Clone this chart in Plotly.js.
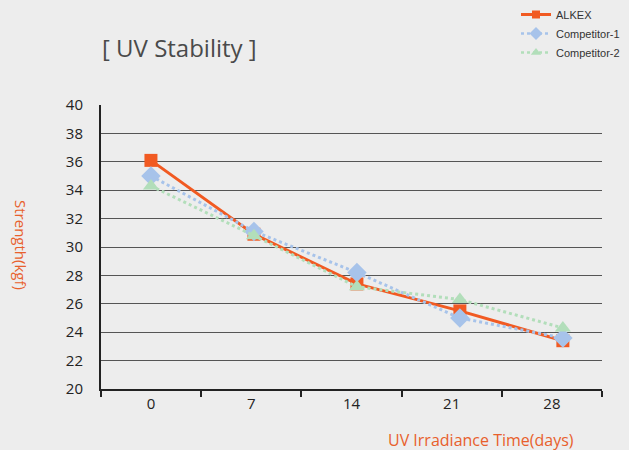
<!DOCTYPE html>
<html><head><meta charset="utf-8">
<script src="https://cdn.plot.ly/plotly-3.0.1.min.js"></script>
<style>html,body{margin:0;padding:0;background:#ededed;}</style>
</head><body><div id="chart" style="width:629px;height:450px;"></div>
<script>
const categories = ["0", "7", "14", "21", "28"];
const alkex = [36.1, 30.9, 27.4, 25.5, 23.4];
const competitor1 = [35.0, 31.1, 28.2, 25.0, 23.6];
const competitor2 = [34.3, 30.8, 27.2, 26.3, 24.3];
const yTicks = [20, 22, 24, 26, 28, 30, 32, 34, 36, 38, 40];
const seriesNames = ["ALKEX", "Competitor-1", "Competitor-2"];
const seriesColors = ["#f15a22", "#a7c3ea", "#b2deba"];

const empty = categories.map(() => null);
const traces = [
  {x: categories, y: alkex, name: seriesNames[0], type: "scatter", mode: "lines+markers", xaxis: "x2", showlegend: false,
   line: {color: seriesColors[0], width: 3}, marker: {symbol: "square", size: 13, color: seriesColors[0]}},
  {x: categories, y: competitor1, name: seriesNames[1], type: "scatter", mode: "lines+markers", xaxis: "x2", showlegend: false,
   line: {color: seriesColors[1], width: 3, dash: "dot"}, marker: {symbol: "diamond", size: 15, color: seriesColors[1]}},
  {x: categories, y: competitor2, name: seriesNames[2], type: "scatter", mode: "lines+markers", xaxis: "x2", showlegend: false,
   line: {color: seriesColors[2], width: 3, dash: "dot"}, marker: {symbol: "triangle-up", size: 14, color: seriesColors[2]}},
  // legend entries (smaller markers, like the reference legend)
  {x: categories, y: empty, name: seriesNames[0], type: "scatter", mode: "lines+markers", xaxis: "x2",
   line: {color: seriesColors[0], width: 3}, marker: {symbol: "square", size: 8, color: seriesColors[0]}},
  {x: categories, y: empty, name: seriesNames[1], type: "scatter", mode: "lines+markers", xaxis: "x2",
   line: {color: seriesColors[1], width: 2.5, dash: "dot"}, marker: {symbol: "diamond", size: 10, color: seriesColors[1]}},
  {x: categories, y: empty, name: seriesNames[2], type: "scatter", mode: "lines+markers", xaxis: "x2",
   line: {color: seriesColors[2], width: 2.5, dash: "dot"}, marker: {symbol: "triangle-up", size: 9, color: seriesColors[2]}},
  {x: categories, y: empty, type: "scatter", mode: "markers", showlegend: false, hoverinfo: "skip", xaxis: "x"}
];

const layout = {
  width: 629, height: 450,
  paper_bgcolor: "#ededed", plot_bgcolor: "#ededed",
  margin: {l: 101, r: 27, t: 105, b: 61, autoexpand: false},
  font: {family: "Open Sans, Arial, sans-serif", color: "#222"},
  title: {text: "[ UV Stability ]", x: 102/629, xanchor: "left", y: 1 - 49/450, yanchor: "middle",
          font: {size: 24, color: "#4a4a4a", family: "Open Sans, sans-serif"}},
  xaxis: {type: "category", categoryarray: categories, range: [-0.5, 4.5], tickson: "boundaries",
          ticks: "outside", ticklen: 6, tickwidth: 2, tickcolor: "#222",
          showline: true, linecolor: "#222", linewidth: 2, showgrid: false, zeroline: false,
          tickfont: {size: 15, color: "#222"}, fixedrange: true},
  xaxis2: {type: "category", categoryarray: categories, overlaying: "x", range: [-0.485, 4.38], visible: false},
  yaxis: {range: [20, 40], tickvals: yTicks, ticktext: yTicks.map(String),
          showgrid: true, gridcolor: "#555", gridwidth: 1, zeroline: false,
          showline: true, linecolor: "#222", linewidth: 2, ticks: "", ticklabelstandoff: 13,
          tickfont: {size: 15, color: "#222"}},
  legend: {x: (516-101)/501, xanchor: "left", y: 389/284, yanchor: "top", bgcolor: "rgba(0,0,0,0)",
           font: {size: 11, color: "#333", family: "Liberation Sans, Arial, sans-serif"}, tracegroupgap: 0},
  annotations: [
    {text: "Strength(kgf)", xref: "paper", yref: "paper", x: -80/501, y: (389-245)/284, xanchor: "center", yanchor: "middle",
     textangle: 90, showarrow: false, font: {size: 15, color: "#e8602c"}},
    {text: "UV Irradiance Time(days)", xref: "paper", yref: "paper", x: (576-101)/501, y: -(440-389)/284, xanchor: "right", yanchor: "middle",
     showarrow: false, font: {size: 16, color: "#e8602c"}}
  ],
  showlegend: true
};

Plotly.newPlot("chart", traces, layout, {displayModeBar: false, staticPlot: true});
</script></body></html>
